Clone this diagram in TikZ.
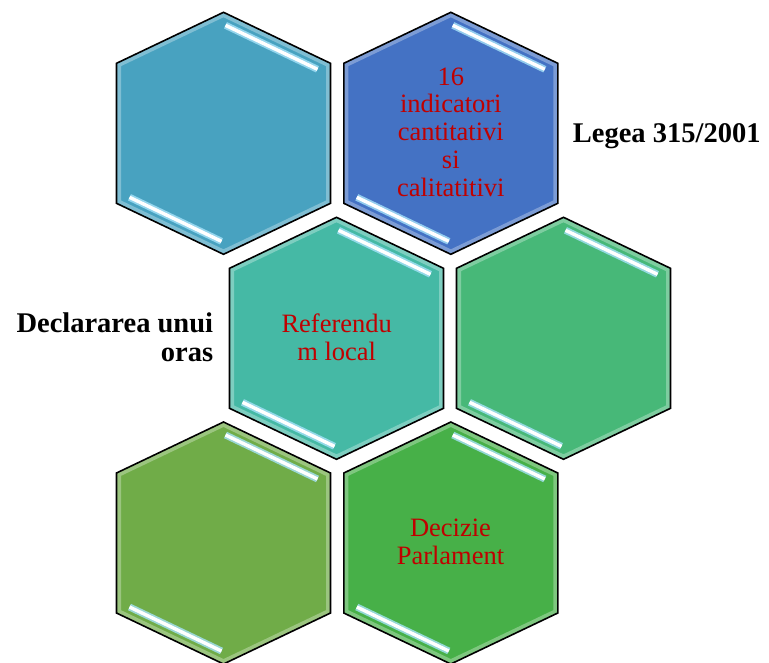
\documentclass[tikz,border=0pt]{standalone}
\usepackage{fontspec}
\setmainfont{Liberation Serif}
\definecolor{hA}{RGB}{72,162,192}
\definecolor{hB}{RGB}{68,114,196}
\definecolor{hC}{RGB}{69,185,165}
\definecolor{hD}{RGB}{71,184,120}
\definecolor{hE}{RGB}{112,172,72}
\definecolor{hF}{RGB}{71,176,72}
\definecolor{textred}{RGB}{192,0,0}
\tikzset{
  hexborder/.style={draw=black, line width=1.6pt, line join=miter},
  glowline/.style={draw=white, opacity=0.3, line width=9pt},
  stripglow/.style={draw=cyan!35!white, opacity=0.8, line width=7pt},
  stripcore/.style={draw=white, line width=3.4pt},
  redtext/.style={text=textred, font=\fontsize{26.5}{27.7}\selectfont, align=center, inner sep=0pt},
  blacktext/.style={font=\fontsize{28.5}{29}\selectfont\bfseries, inner sep=0pt},
}
\newcommand\hexagonat[4]{%
  \coordinate (#1) at (#2,#3);
  \begin{scope}[shift={(#2,#3)}]
    \path[fill=#4] (0,-121) -- (107,-70) -- (107,70) -- (0,121) -- (-107,70) -- (-107,-70) -- cycle;
    \begin{scope}
      \clip (0,-121) -- (107,-70) -- (107,70) -- (0,121) -- (-107,70) -- (-107,-70) -- cycle;
      \path[glowline] (0,-121) -- (107,-70) -- (107,70) -- (0,121) -- (-107,70) -- (-107,-70) -- cycle;
    \end{scope}
    \path[stripglow] (2,-108) -- (94,-64);
    \path[stripcore] (2,-108) -- (94,-64);
    \path[stripglow] (-94,64) -- (-2,108);
    \path[stripcore] (-94,64) -- (-2,108);
    \path[hexborder] (0,-121) -- (107,-70) -- (107,70) -- (0,121) -- (-107,70) -- (-107,-70) -- cycle;
  \end{scope}
}
\begin{document}
\begin{tikzpicture}[x=1pt, y=-1pt]
  \useasboundingbox (0,0) rectangle (769,662);
  \clip (0,0) rectangle (769,662);
  \hexagonat{h1}{223.5}{133.3}{hA}
  \hexagonat{h2}{450.8}{133.3}{hB}
  \hexagonat{h3}{336.5}{338.3}{hC}
  \hexagonat{h4}{563.5}{338.3}{hD}
  \hexagonat{h5}{223.5}{543}{hE}
  \hexagonat{h6}{450.8}{543}{hF}
  \node[redtext] (t2) at (450.8,132) {16\\indicatori\\cantitativi\\si\\calitatitivi};
  \node[redtext] (t3) at (336.7,337) {Referendu\\m local};
  \node[redtext] (t6) at (450.5,542) {Decizie\\Parlament};
  \node[blacktext, anchor=base west] (lg) at (572.7,142.7) {Legea 315/2001};
  \node[blacktext, align=right, anchor=east] (dc) at (213.3,337.5) {Declararea unui\\oras};
\end{tikzpicture}
\end{document}
